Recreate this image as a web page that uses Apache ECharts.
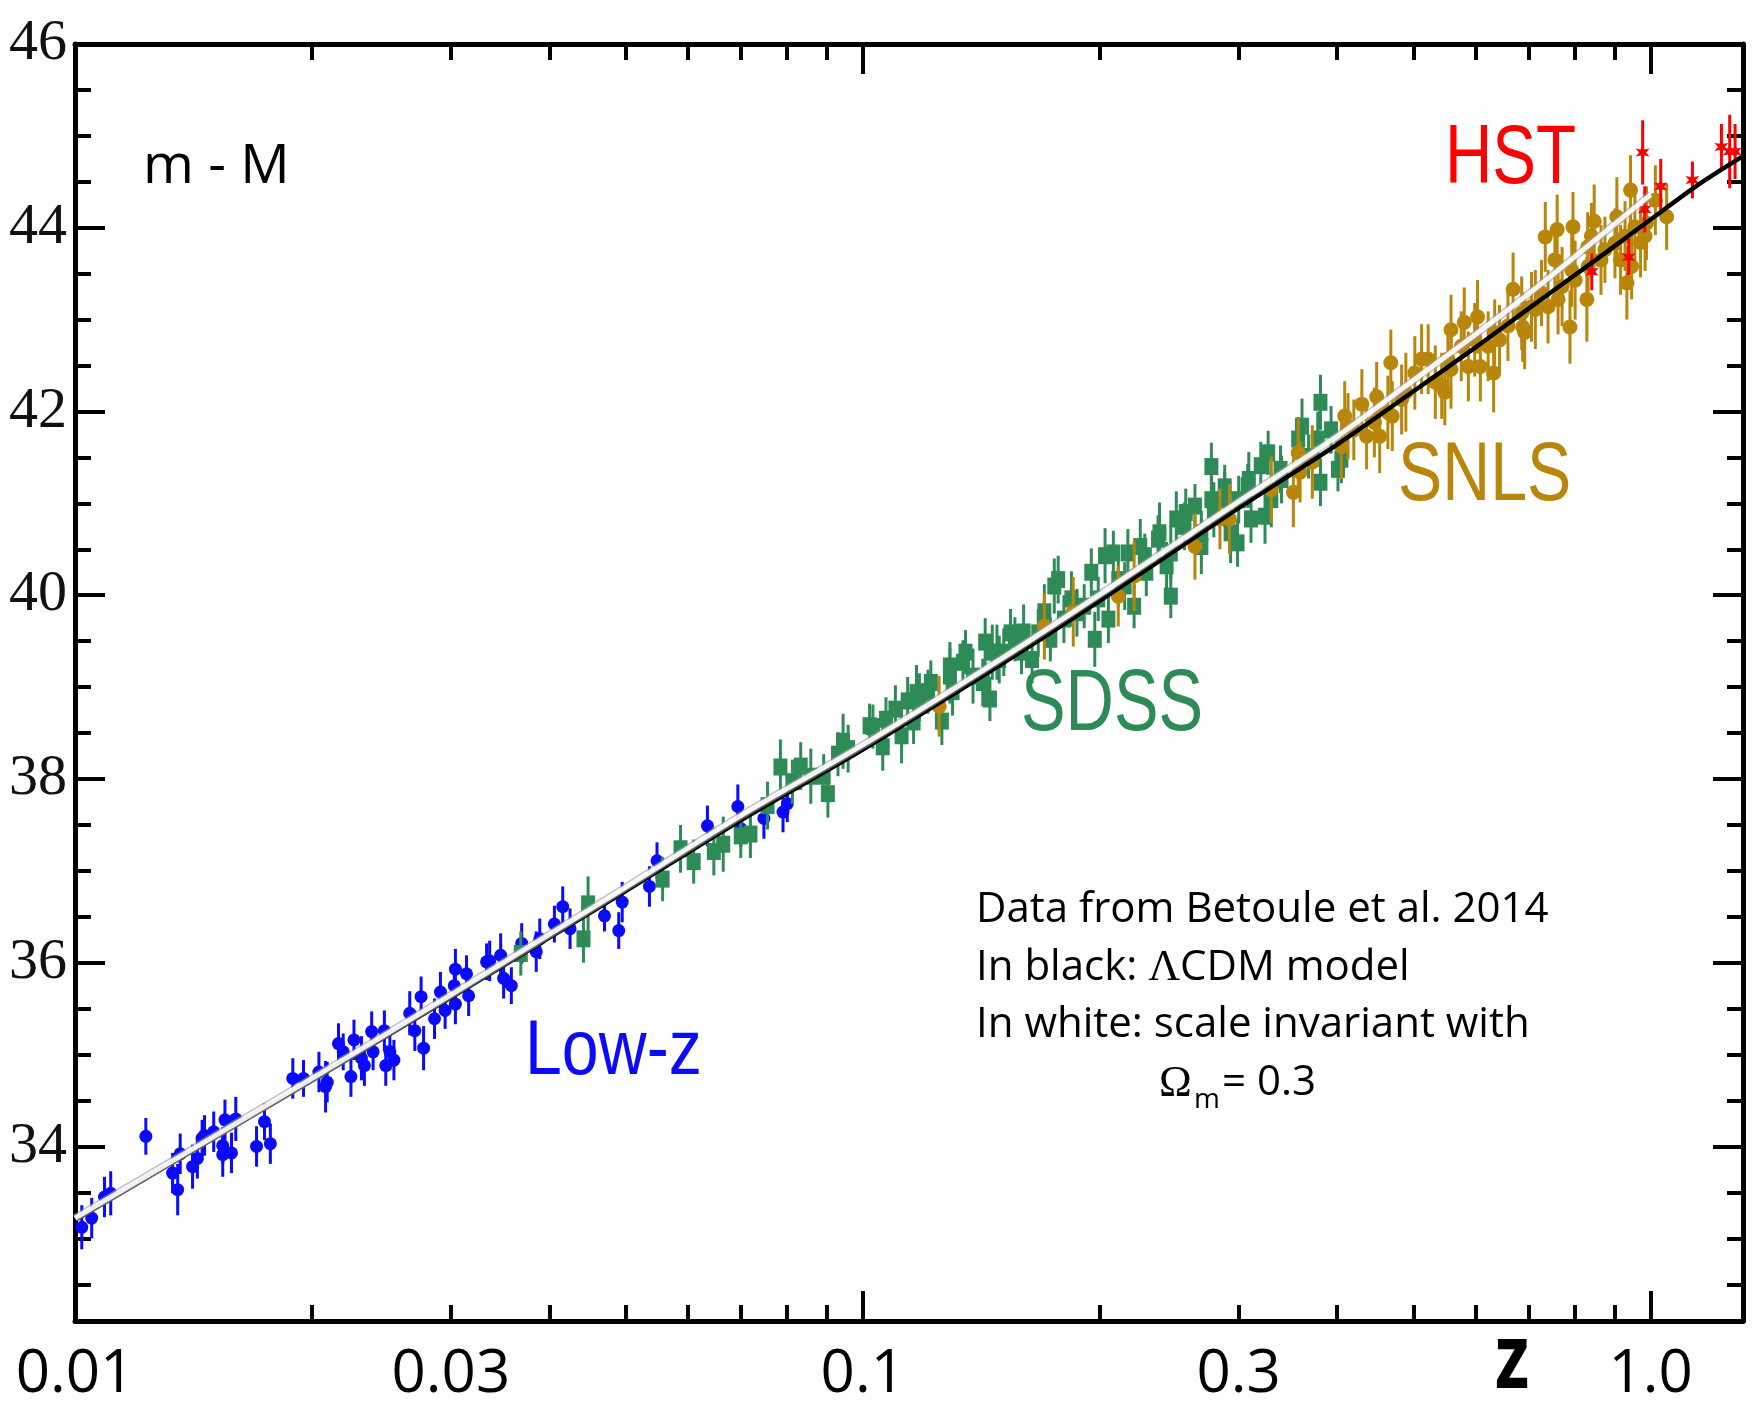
<!DOCTYPE html>
<html>
<head>
<meta charset="utf-8">
<title>Hubble diagram</title>
<script src="https://cdn.jsdelivr.net/npm/echarts@6/dist/echarts.min.js"></script>
<style>
  html, body { margin: 0; padding: 0; background: #fff; }
  #chart { width: 1760px; height: 1408px; }
</style>
</head>
<body>
<div id="chart"></div>
<script>
// axis ranges
const xMin = 0.01
const xMax = 1.31
const yMin = 32.1
const yMax = 46

// tick marks and labels
const xMajorTicks = [0.01, 0.1, 1]
const xMinorTicks = [0.02, 0.03, 0.04, 0.05, 0.06, 0.07, 0.08, 0.09, 0.2, 0.3, 0.4, 0.5, 0.6, 0.7, 0.8, 0.9]
const xLabelValues = [0.01, 0.03, 0.1, 0.3, 1.0]
const xTickLabels = ['0.01', '0.03', '0.1', '0.3', '1.0']
const yMajorTicks = [34, 36, 38, 40, 42, 44, 46]
const yMinorTicks = [32.5, 33, 33.5, 34.5, 35, 35.5, 36.5, 37, 37.5, 38.5, 39, 39.5, 40.5, 41, 41.5, 42.5, 43, 43.5, 44.5, 45, 45.5]

// Low-z sample (blue)
const lowzZ = [0.0102, 0.0105, 0.0109, 0.0111, 0.0123, 0.0133, 0.0135, 0.0136, 0.0141, 0.0143,
  0.0145, 0.0146, 0.0150, 0.0154, 0.0158, 0.0155, 0.0160, 0.0154, 0.0170, 0.0174,
  0.0177, 0.0189, 0.0195, 0.0204, 0.0208, 0.0209, 0.0216, 0.0219, 0.0224, 0.0226,
  0.0231, 0.0233, 0.0238, 0.0239, 0.0247, 0.0248, 0.0251, 0.0254, 0.0266, 0.0270,
  0.0275, 0.0277, 0.0286, 0.0291, 0.0295, 0.0303, 0.0304, 0.0304, 0.0314, 0.0316,
  0.0333, 0.0336, 0.0347, 0.0350, 0.0358, 0.0369, 0.0385, 0.0389, 0.0406, 0.0416,
  0.0425, 0.0470, 0.0490, 0.0495, 0.0536, 0.0548, 0.0635, 0.0694, 0.0700, 0.0749,
  0.0792, 0.0802]
const lowzMu = [33.12, 33.22, 33.45, 33.49, 34.11, 33.71, 33.53, 33.92, 33.78, 33.87,
  34.09, 34.12, 34.16, 33.91, 33.93, 34.29, 34.30, 34.01, 34.00, 34.27,
  34.03, 34.74, 34.74, 34.81, 34.65, 34.70, 35.12, 35.03, 34.76, 35.16,
  34.96, 34.88, 35.25, 35.03, 35.26, 34.88, 35.03, 34.94, 35.45, 35.26,
  35.63, 35.07, 35.39, 35.68, 35.48, 35.75, 35.93, 35.55, 35.88, 35.64,
  36.01, 36.02, 36.08, 35.83, 35.75, 36.21, 36.12, 36.26, 36.42, 36.61,
  36.37, 36.51, 36.35, 36.66, 36.83, 37.11, 37.49, 37.70, 37.46, 37.57,
  37.64, 37.73]
const lowzErr = [0.24, 0.22, 0.22, 0.24, 0.2, 0.22, 0.28, 0.22, 0.24, 0.22,
  0.2, 0.22, 0.22, 0.24, 0.22, 0.22, 0.24, 0.2, 0.22, 0.2,
  0.22, 0.22, 0.2, 0.22, 0.28, 0.22, 0.22, 0.2, 0.22, 0.22,
  0.24, 0.22, 0.22, 0.2, 0.22, 0.22, 0.2, 0.22, 0.24, 0.22,
  0.22, 0.24, 0.22, 0.22, 0.2, 0.22, 0.22, 0.22, 0.2, 0.22,
  0.2, 0.22, 0.24, 0.22, 0.2, 0.22, 0.22, 0.22, 0.2, 0.22,
  0.22, 0.17, 0.2, 0.22, 0.22, 0.2, 0.22, 0.24, 0.2, 0.22,
  0.22, 0.2]

// SDSS sample (green)
const sdssZ = [0.0368, 0.0442, 0.0448, 0.0557, 0.0587, 0.0610, 0.0647, 0.0665, 0.0700, 0.0720,
  0.0757, 0.0786, 0.0814, 0.0834, 0.0859, 0.0892, 0.0903, 0.0930, 0.0944, 0.0958,
  0.103, 0.106, 0.107, 0.112, 0.114, 0.116, 0.118, 0.121, 0.126, 0.129,
  0.130, 0.134, 0.138, 0.142, 0.145, 0.146, 0.149,
  0.151, 0.156, 0.160, 0.164, 0.170, 0.173, 0.177, 0.180, 0.184, 0.191,
  0.195, 0.197, 0.205, 0.208, 0.211, 0.217, 0.221, 0.225, 0.229, 0.238,
  0.243, 0.246, 0.250, 0.257, 0.264, 0.269, 0.277, 0.279, 0.288, 0.293,
  0.300, 0.309, 0.311, 0.327, 0.330, 0.339, 0.361, 0.368, 0.381, 0.381, 0.405,
  0.102, 0.110, 0.117, 0.122, 0.129, 0.135, 0.143, 0.148, 0.154, 0.159,
  0.167, 0.175, 0.187, 0.199, 0.203, 0.215, 0.228, 0.237, 0.246, 0.256,
  0.269, 0.277, 0.288, 0.299, 0.308, 0.320, 0.324, 0.340, 0.357, 0.378, 0.393, 0.401]
const sdssMu = [36.10, 36.26, 36.64, 36.91, 37.24, 37.10, 37.21, 37.29, 37.38, 37.40,
  37.71, 38.13, 37.97, 38.14, 38.03, 38.03, 37.84, 38.27, 38.41, 38.33,
  38.57, 38.35, 38.65, 38.47, 38.85, 38.62, 38.89, 38.95, 38.63, 39.12,
  38.95, 39.27, 39.12, 39.05, 38.87, 39.38, 39.30,
  39.38, 39.52, 39.60, 39.30, 39.82, 39.52, 40.17, 39.74, 39.96, 39.88,
  40.25, 39.52, 39.74, 40.46, 40.17, 40.46, 39.88, 40.53, 40.25, 40.68,
  40.32, 39.99, 40.83, 40.90, 40.97, 40.53, 41.40, 40.93, 41.18, 40.68,
  41.04, 41.26, 40.83, 41.55, 41.04, 41.37, 41.84, 41.51, 41.23, 42.10, 41.48,
  38.58, 38.76, 38.94, 39.05, 39.23, 39.38, 39.49, 39.38, 39.59, 39.38,
  39.59, 40.10, 39.81, 39.96, 40.43, 40.10, 40.43, 40.61, 40.46, 40.75,
  40.68, 41.04, 41.04, 40.57, 41.19, 41.41, 40.86, 41.26, 41.70, 41.70, 41.80, 41.37]
const sdssErr = [0.24, 0.26, 0.3, 0.24, 0.26, 0.24, 0.26, 0.3, 0.24, 0.26,
  0.26, 0.3, 0.24, 0.26, 0.3, 0.24, 0.26, 0.24, 0.3, 0.26,
  0.24, 0.26, 0.24, 0.3, 0.26, 0.24, 0.26, 0.24, 0.26, 0.3,
  0.26, 0.24, 0.3, 0.26, 0.24, 0.3, 0.26, 0.26, 0.24, 0.3,
  0.26, 0.3, 0.24, 0.26, 0.26, 0.3, 0.24, 0.26, 0.3, 0.26,
  0.24, 0.3, 0.26, 0.24, 0.3, 0.26, 0.33, 0.26, 0.24, 0.3,
  0.26, 0.24, 0.3, 0.26, 0.3, 0.24, 0.33, 0.26, 0.3, 0.26,
  0.24, 0.3, 0.26, 0.3, 0.24, 0.26, 0.3, 0.26, 0.24, 0.26,
  0.3, 0.24, 0.26, 0.24, 0.26, 0.3, 0.26, 0.24, 0.26, 0.3,
  0.26, 0.24, 0.3, 0.26, 0.24, 0.26, 0.3, 0.26, 0.24, 0.26,
  0.3, 0.26, 0.24, 0.26, 0.3, 0.26, 0.24, 0.3, 0.26, 0.24]

// SNLS sample (gold)
const snlsZ = [0.125, 0.170, 0.185, 0.211, 0.221, 0.264, 0.284, 0.292,
  0.330, 0.352, 0.357, 0.359, 0.372, 0.405, 0.409, 0.420, 0.430,
  0.436, 0.449, 0.453, 0.468, 0.470, 0.489, 0.512, 0.533, 0.548, 0.558,
  0.558, 0.580, 0.603, 0.608, 0.632, 0.643, 0.669, 0.688, 0.714, 0.735,
  0.741, 0.761, 0.772, 0.790, 0.797, 0.802, 0.830, 0.832, 0.848, 0.865,
  0.906, 0.916, 0.933, 0.943, 0.946, 0.971, 0.988, 1.014, 1.048,
  0.483, 0.502, 0.522, 0.543, 0.575, 0.598, 0.622, 0.634, 0.659, 0.686,
  0.706, 0.727, 0.763, 0.794, 0.833, 0.875, 0.901, 0.955, 0.984, 0.553,
  0.587, 0.692, 0.756, 0.841, 0.928, 0.413, 0.446, 0.464]
const snlsMu = [38.79, 39.66, 39.82, 39.99, 40.21, 40.53, 40.83, 40.83,
  41.15, 41.12, 41.55, 41.34, 41.45, 41.62, 41.95, 41.80, 42.08,
  41.73, 42.16, 41.73, 42.53, 41.95, 42.21, 42.57, 42.32, 42.21, 42.89,
  42.46, 42.97, 43.03, 42.49, 42.42, 42.78, 43.33, 42.92, 43.11, 43.90,
  43.14, 43.98, 43.36, 42.92, 44.01, 43.43, 43.22, 43.79, 44.07, 43.65,
  44.12, 43.65, 43.40, 44.41, 43.58, 43.84, 44.05, 44.30, 44.12,
  42.13, 42.42, 42.57, 42.28, 42.71, 42.78, 42.71, 42.86, 42.93, 43.07,
  43.14, 43.29, 43.22, 43.54, 43.58, 43.76, 43.83, 44.01, 43.91, 42.57,
  42.49, 42.86, 43.65, 43.91, 43.91, 41.84, 41.88, 41.99]
const snlsErr = [0.33, 0.36, 0.38, 0.33, 0.38, 0.36, 0.33, 0.38, 0.36, 0.38,
  0.38, 0.33, 0.4, 0.36, 0.38, 0.33, 0.38, 0.36, 0.38, 0.4,
  0.36, 0.38, 0.43, 0.38, 0.4, 0.36, 0.38, 0.43, 0.38, 0.4,
  0.38, 0.43, 0.38, 0.4, 0.38, 0.43, 0.38, 0.4, 0.38, 0.43,
  0.4, 0.38, 0.43, 0.46, 0.38, 0.4, 0.38, 0.43, 0.38, 0.4,
  0.38, 0.36, 0.38, 0.4, 0.38, 0.36, 0.38, 0.4, 0.38, 0.36,
  0.38, 0.4, 0.38, 0.36, 0.38, 0.4, 0.38, 0.36, 0.38, 0.4,
  0.38, 0.36, 0.38, 0.4, 0.38, 0.36, 0.38, 0.4, 0.38, 0.36,
  0.38, 0.36, 0.38, 0.4]

// HST sample (red)
const hstZ = [0.977, 0.983, 1.03, 1.13, 1.23, 1.26, 1.28, 0.938, 0.842]
const hstMu = [44.82, 44.20, 44.45, 44.52, 44.88, 44.83, 44.83, 43.68, 43.52]
const hstErr = [0.35, 0.25, 0.3, 0.2, 0.25, 0.4, 0.3, 0.2, 0.2]

// model curves
const lcdmZ = [0.01, 0.02, 0.03, 0.05, 0.07, 0.1, 0.15, 0.2, 0.3, 0.4, 0.5, 0.6, 0.7, 0.8, 0.9, 1.0, 1.15, 1.31]
const lcdmMu = [33.20, 34.72, 35.62, 36.78, 37.55, 38.32, 39.25, 39.94, 40.95, 41.64, 42.22, 42.70, 43.12, 43.48, 43.80, 44.09, 44.47, 44.78]
const scaleInvZ = [0.01, 0.02, 0.03, 0.05, 0.07, 0.1, 0.15, 0.2, 0.3, 0.4, 0.5, 0.6, 0.7, 0.8, 0.9, 1.0]
const scaleInvMu = [33.22, 34.74, 35.65, 36.82, 37.60, 38.37, 39.31, 40.01, 41.02, 41.73, 42.34, 42.84, 43.28, 43.68, 44.04, 44.36]

const BLUE = '#0a0aff'
const GREEN = '#2e8b57'
const GOLD = '#b8860b'
const RED = '#ff0000'

const chart = echarts.init(document.getElementById('chart'))

function zip3 (a, b, c) {
  return a.map((v, i) => [v, b[i], c[i]])
}

// error bar + marker
function errRender (kind, color) {
  return function (params, api) {
    const z = api.value(0)
    const mu = api.value(1)
    const e = api.value(2)
    const c = api.coord([z, mu])
    const hi = api.coord([z, mu + e])
    const lo = api.coord([z, mu - e])
    const kids = [{
      type: 'line',
      shape: { x1: c[0], y1: hi[1], x2: c[0], y2: lo[1] },
      style: { stroke: color, lineWidth: 3 }
    }]
    if (kind === 'circle') {
      kids.push({ type: 'circle', shape: { cx: c[0], cy: c[1], r: 6.5 }, style: { fill: color } })
    } else if (kind === 'bigcircle') {
      kids.push({ type: 'circle', shape: { cx: c[0], cy: c[1], r: 7.5 }, style: { fill: color } })
    } else if (kind === 'square') {
      kids.push({ type: 'rect', shape: { x: c[0] - 7, y: c[1] - 8.5, width: 14, height: 17 }, style: { fill: color } })
    } else {
      const pts = []
      for (let k = 0; k < 12; k++) {
        const r = k % 2 === 0 ? 8 : 3.5
        const a = Math.PI * k / 6 - Math.PI / 2
        pts.push([c[0] + r * Math.cos(a), c[1] + r * Math.sin(a)])
      }
      kids.push({ type: 'polygon', shape: { points: pts }, style: { fill: color } })
    }
    return { type: 'group', children: kids }
  }
}

const lx = (v) => Math.log10(v)
const xLabelFmt = (v) => {
  const i = xLabelValues.findIndex(t => Math.abs(lx(t) - v) < 1e-6)
  return i >= 0 ? xTickLabels[i] : ''
}

const axisLineStyle = { color: '#000', width: 5 }
const tickStyle = { color: '#000', width: 4 }

function xTickAxis (pos, ticks, len, withLine, withLabels) {
  return {
    type: 'value',
    position: pos,
    min: lx(xMin),
    max: lx(xMax),
    axisLine: { show: withLine, onZero: false, lineStyle: axisLineStyle },
    axisTick: { show: true, inside: true, length: len, lineStyle: tickStyle, customValues: ticks.map(lx) },
    axisLabel: withLabels ? {
      show: true,
      customValues: xLabelValues.map(lx),
      formatter: xLabelFmt,
      fontFamily: 'Open Sans',
      fontSize: 60,
      color: '#000',
      margin: 24
    } : { show: false },
    splitLine: { show: false }
  }
}

function yTickAxis (pos, ticks, len, withLine, withLabels) {
  return {
    type: 'value',
    position: pos,
    min: yMin,
    max: yMax,
    axisLine: { show: withLine, onZero: false, lineStyle: axisLineStyle },
    axisTick: { show: true, inside: true, length: len, lineStyle: tickStyle, customValues: ticks },
    axisLabel: withLabels ? {
      show: true,
      customValues: yMajorTicks,
      fontFamily: 'Liberation Serif',
      fontSize: 58,
      color: '#111',
      margin: 8,
      padding: [0, 0, 10, 0]
    } : { show: false },
    splitLine: { show: false }
  }
}

const sansFont = '"Open Sans", "Liberation Sans", sans-serif'
const option = {
  animation: false,
  backgroundColor: '#fff',
  grid: { left: 75, right: 17, top: 44, bottom: 87, containLabel: false },
  xAxis: [
    { type: 'log', logBase: 10, min: xMin, max: xMax, show: false },
    xTickAxis('bottom', xMajorTicks, 30, true, true),
    xTickAxis('bottom', xMinorTicks, 16, false, false),
    xTickAxis('top', xMajorTicks, 30, true, false),
    xTickAxis('top', xMinorTicks, 16, false, false)
  ],
  yAxis: [
    yTickAxis('left', yMajorTicks, 30, true, true),
    yTickAxis('left', yMinorTicks, 16, false, false),
    yTickAxis('right', yMajorTicks, 30, true, false),
    yTickAxis('right', yMinorTicks, 16, false, false)
  ],
  graphic: [
    { type: 'text', x: 143, y: 167, silent: true,
      style: { text: 'm - M', font: '55px ' + sansFont, fill: '#000', align: 'left', verticalAlign: 'middle', textAlign: 'left', textVerticalAlign: 'middle' } },
    { type: 'text', x: 1445, y: 160, scaleX: 0.78, silent: true,
      style: { text: 'HST', font: '84px "Liberation Sans"', fill: RED, align: 'left', verticalAlign: 'middle', textAlign: 'left', textVerticalAlign: 'middle' } },
    { type: 'text', x: 1398, y: 477, scaleX: 0.79, silent: true,
      style: { text: 'SNLS', font: '84px "Liberation Sans"', fill: GOLD, align: 'left', verticalAlign: 'middle', textAlign: 'left', textVerticalAlign: 'middle' } },
    { type: 'text', x: 1021, y: 706, scaleX: 0.76, silent: true,
      style: { text: 'SDSS', font: '88px "Liberation Sans"', fill: GREEN, align: 'left', verticalAlign: 'middle', textAlign: 'left', textVerticalAlign: 'middle' } },
    { type: 'text', x: 525, y: 1052, scaleX: 0.85, silent: true,
      style: { text: 'Low-z', font: '78px "Liberation Sans"', fill: BLUE, align: 'left', verticalAlign: 'middle', textAlign: 'left', textVerticalAlign: 'middle' } },
    { type: 'text', x: 976, y: 910, silent: true,
      style: { text: 'Data from Betoule et al. 2014', font: '42px ' + sansFont, fill: '#000', align: 'left', verticalAlign: 'middle', textAlign: 'left', textVerticalAlign: 'middle' } },
    { type: 'text', x: 976, y: 968, silent: true,
      style: {
        text: '{a|In black: }{b|Λ}{a|CDM model}',
        align: 'left', verticalAlign: 'middle', textAlign: 'left', textVerticalAlign: 'middle',
        rich: {
          a: { font: '42px ' + sansFont, fill: '#000', color: '#000' },
          b: { font: '44px "Liberation Serif"', fill: '#000', color: '#000' }
        }
      } },
    { type: 'text', x: 976, y: 1025, silent: true,
      style: { text: 'In white: scale invariant with', font: '42px ' + sansFont, fill: '#000', align: 'left', verticalAlign: 'middle', textAlign: 'left', textVerticalAlign: 'middle' } },
    { type: 'text', x: 1159, y: 1084, silent: true,
      style: { text: 'Ω', font: '44px "Liberation Serif"', fill: '#000', align: 'left', verticalAlign: 'middle', textAlign: 'left', textVerticalAlign: 'middle' } },
    { type: 'text', x: 1194, y: 1100, silent: true,
      style: { text: 'm', font: '28px ' + sansFont, fill: '#000', align: 'left', verticalAlign: 'middle', textAlign: 'left', textVerticalAlign: 'middle' } },
    { type: 'text', x: 1222, y: 1083, silent: true,
      style: { text: '= 0.3', font: '42px ' + sansFont, fill: '#000', align: 'left', verticalAlign: 'middle', textAlign: 'left', textVerticalAlign: 'middle' } },
    { type: 'text', x: 1495, y: 1362, scaleX: 0.78, silent: true,
      style: { text: 'z', font: 'bold 90px ' + sansFont, fill: '#000', align: 'left', verticalAlign: 'middle', textAlign: 'left', textVerticalAlign: 'middle' } }
  ],
  series: [
    {
      type: 'custom', name: 'Low-z', xAxisIndex: 0, yAxisIndex: 0,
      renderItem: errRender('circle', BLUE),
      data: zip3(lowzZ, lowzMu, lowzErr),
      encode: { x: 0, y: 1 },
      silent: true
    },
    {
      type: 'custom', name: 'SDSS', xAxisIndex: 0, yAxisIndex: 0,
      renderItem: errRender('square', GREEN),
      data: zip3(sdssZ, sdssMu, sdssErr),
      encode: { x: 0, y: 1 },
      silent: true
    },
    {
      type: 'custom', name: 'SNLS', xAxisIndex: 0, yAxisIndex: 0,
      renderItem: errRender('bigcircle', GOLD),
      data: zip3(snlsZ, snlsMu, snlsErr),
      encode: { x: 0, y: 1 },
      silent: true
    },
    {
      type: 'custom', name: 'HST', xAxisIndex: 0, yAxisIndex: 0,
      renderItem: errRender('star', RED),
      data: zip3(hstZ, hstMu, hstErr),
      encode: { x: 0, y: 1 },
      silent: true
    },
    {
      type: 'line', name: 'LCDM', xAxisIndex: 0, yAxisIndex: 0,
      data: lcdmZ.map((z, i) => [z, lcdmMu[i]]),
      showSymbol: false, smooth: 0.3, silent: true,
      lineStyle: { color: '#000', width: 4.5 }
    },
    {
      type: 'line', name: 'scale invariant edge', xAxisIndex: 0, yAxisIndex: 0,
      data: scaleInvZ.map((z, i) => [z, scaleInvMu[i]]),
      showSymbol: false, smooth: 0.3, silent: true,
      lineStyle: { color: '#9c9c9c', width: 8, opacity: 0.6 }
    },
    {
      type: 'line', name: 'scale invariant', xAxisIndex: 0, yAxisIndex: 0,
      data: scaleInvZ.map((z, i) => [z, scaleInvMu[i]]),
      showSymbol: false, smooth: 0.3, silent: true,
      lineStyle: { color: '#ffffff', width: 5, opacity: 0.9 }
    }
  ]
}
chart.setOption(option)
</script>
</body>
</html>
